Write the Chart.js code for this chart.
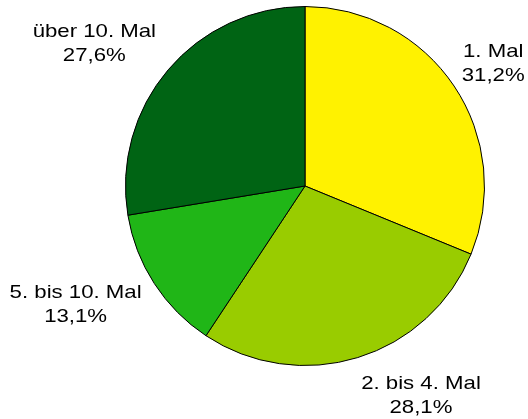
<!DOCTYPE html>
<html>
<head>
<meta charset="utf-8">
<script src="https://cdn.jsdelivr.net/npm/chart.js@4/dist/chart.umd.min.js"></script>
<style>
  html, body { margin: 0; padding: 0; background: #fff; }
  #wrap { width: 528px; height: 419px; }
</style>
</head>
<body>
<div id="wrap"><canvas id="pieChart" width="528" height="419"></canvas></div>
<script>
  // Data
  const categories = ['1. Mal', '2. bis 4. Mal', '5. bis 10. Mal', 'über 10. Mal'];
  const shares = [31.2, 28.1, 13.1, 27.6];
  const sliceColors = ['#FFF200', '#99CC00', '#20B617', '#006414'];

  const FONT = '18.5px "Liberation Sans", Arial, sans-serif';
  const STRETCH = 1.2; // labels in the picture are drawn wider than normal Arial
  const LINE_H = 24;

  // Excel-like outside labels next to each slice
  const outsideLabels = {
    id: 'outsideLabels',
    afterDatasetsDraw(chart) {
      const ctx = chart.ctx;
      const meta = chart.getDatasetMeta(0);
      ctx.save();
      ctx.font = FONT;
      ctx.fillStyle = '#000';
      ctx.textAlign = 'center';
      ctx.textBaseline = 'middle';
      meta.data.forEach((arc, i) => {
        const a = (arc.startAngle + arc.endAngle) / 2;
        const cos = Math.cos(a), sin = Math.sin(a);
        const px = arc.x + cos * (arc.outerRadius + 8);
        const lines = [categories[i], shares[i].toFixed(1).replace('.', ',') + '%'];
        const w = Math.max(...lines.map(t => ctx.measureText(t).width)) * STRETCH;
        const left = cos >= 0 ? px + 1 : px - w - 6;
        const cx = left + w / 2;
        const cy = arc.y + sin * (arc.outerRadius + 40);
        lines.forEach((t, j) => {
          ctx.save();
          ctx.translate(cx, cy + LINE_H * (j - (lines.length - 1) / 2));
          ctx.scale(STRETCH, 1);
          ctx.fillText(t, 0, 0);
          ctx.restore();
        });
      });
      ctx.restore();
    }
  };

  const ctx = document.getElementById('pieChart').getContext('2d');
  new Chart(ctx, {
    type: 'pie',
    data: {
      labels: categories,
      datasets: [{
        data: shares,
        backgroundColor: sliceColors,
        borderColor: '#000',
        borderWidth: 1
      }]
    },
    options: {
      responsive: false,
      animation: false,
      layout: { padding: { left: 125, right: 43, top: 6, bottom: 53 } },
      plugins: {
        legend: { display: false },
        tooltip: { enabled: false }
      }
    },
    plugins: [outsideLabels]
  });
</script>
</body>
</html>
